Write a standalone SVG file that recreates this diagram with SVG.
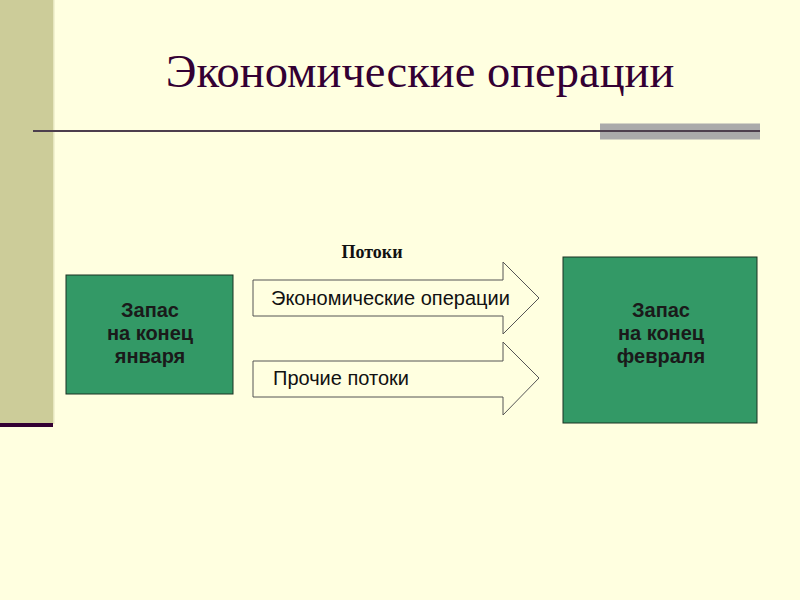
<svg xmlns="http://www.w3.org/2000/svg" width="800" height="600" viewBox="0 0 800 600">
<style>
.box{fill:#339966;stroke:#1a3322;stroke-width:1}
.boxt{font-family:"Liberation Sans",Arial,sans-serif;font-weight:bold;font-size:20px;fill:#1a1a1a;text-anchor:middle}
.arrow{fill:#FFFFE0;stroke:#555555;stroke-width:1}
.arrt{font-family:"Liberation Sans",Arial,sans-serif;font-size:20px;fill:#111111}
</style>
<rect x="0" y="0" width="800" height="600" fill="#FFFFE0"/>
<rect x="0" y="0" width="53" height="424" fill="#CCCC99"/>
<rect x="53" y="0" width="1.5" height="424" fill="#E6E6BF"/>
<rect x="0" y="423" width="53" height="4" fill="#330033"/>
<rect x="600" y="123.5" width="160" height="16" fill="#AAAAAA"/>
<rect x="33" y="130" width="727" height="2" fill="#4D3F4D"/>
<text x="420" y="87" font-family="'Liberation Serif','Times New Roman',serif" font-size="46.5" fill="#330033" text-anchor="middle">Экономические операции</text>
<text x="372" y="258" font-family="'Liberation Serif','Times New Roman',serif" font-size="18" font-weight="bold" fill="#111111" text-anchor="middle">Потоки</text>
<g id="node-jan">
<rect class="box" x="66" y="275" width="167" height="119"/>
<text class="boxt" x="150" y="317">Запас</text>
<text class="boxt" x="150" y="340">на конец</text>
<text class="boxt" x="150" y="363">января</text>
</g>
<g id="node-feb">
<rect class="box" x="563" y="257" width="194" height="166"/>
<text class="boxt" x="661" y="317">Запас</text>
<text class="boxt" x="661" y="340">на конец</text>
<text class="boxt" x="661" y="363">февраля</text>
</g>
<g id="connectors">
<g id="arrow-econ">
<polygon class="arrow" points="253,280 503,280 503,262 539,298 503,334 503,316 253,316"/>
<text class="arrt" x="271" y="305">Экономические операции</text>
</g>
<g id="arrow-other">
<polygon class="arrow" points="253,361 503,361 503,342 539,378 503,415 503,397 253,397"/>
<text class="arrt" x="273" y="385">Прочие потоки</text>
</g>
</g>
</svg>
